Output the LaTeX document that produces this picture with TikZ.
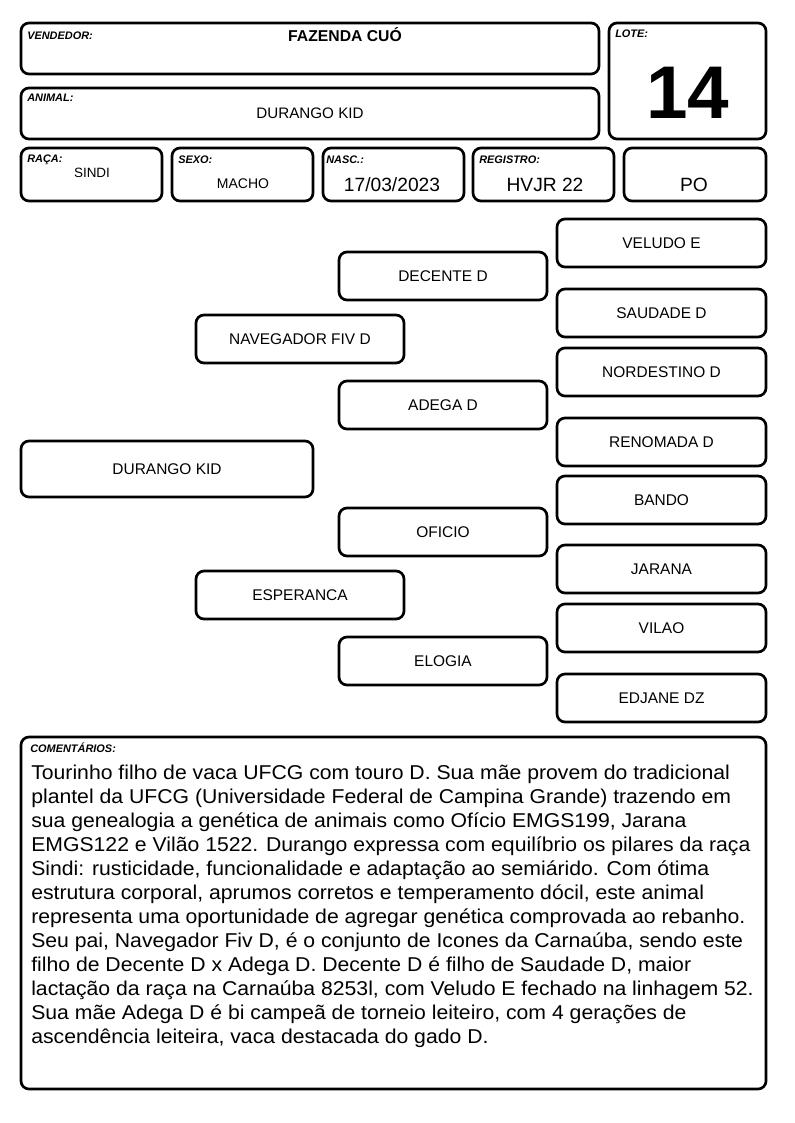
\documentclass[tikz,border=0pt]{standalone}
\usepackage{fontspec}
\setmainfont{Liberation Sans}
\newfontfamily\comfont[FakeStretch=1.06]{Liberation Sans}
\newcommand\pedbox[6]{\node[box, minimum width={(#4-#2)*0.75pt}, minimum height={(#5-#3)*0.75pt}] (#1) at ({(#2+#4)/2},{(#3+#5)/2}) {#6};}
\begin{document}
\begin{tikzpicture}[x=0.75pt,y=-0.75pt,
  box/.style={draw, line width=2pt, rounded corners=6pt, inner sep=0pt, font=\fontsize{11.6}{14}\selectfont},
  tag/.style={anchor=base west, inner sep=0pt, font=\fontsize{8.2}{10}\selectfont\bfseries\itshape},
  val/.style={anchor=base, inner sep=0pt},
  cline/.style={anchor=base west, inner sep=0pt, font=\comfont\fontsize{15}{18}\selectfont}]
\useasboundingbox (0,0) rectangle (794,1123);
% header
\pedbox{vend}{21}{23}{599}{74}{}
\pedbox{anim}{21}{88}{599}{139}{}
\pedbox{lote}{609}{23}{766}{139}{}
\pedbox{raca}{21}{148}{162}{201}{}
\pedbox{sexo}{172}{148}{313}{201}{}
\pedbox{nasc}{323}{148}{464}{201}{}
\pedbox{reg}{473}{148}{614}{201}{}
\pedbox{cat}{624}{148}{766}{201}{}
\node[tag] (tvend) at (27,39.5) {VENDEDOR:};
\node[tag] (tanim) at (27,102) {ANIMAL:};
\node[tag] (tlote) at (615,38) {LOTE:};
\node[tag] (traca) at (27,163) {RAÇA:};
\node[tag] (tsexo) at (178,164) {SEXO:};
\node[tag] (tnasc) at (326,164) {NASC.:};
\node[tag] (treg) at (479,164) {REGISTRO:};
\node[val, font=\fontsize{11.8}{14}\selectfont\bfseries] (vvend) at (345,42) {FAZENDA CUÓ};
\node[val, font=\fontsize{11.4}{14}\selectfont] (vanim) at (310,119) {DURANGO KID};
\node[val, font=\fontsize{56}{56}\selectfont\bfseries] (vlote) at (688,118.5) {14};
\node[val, font=\fontsize{10.1}{12}\selectfont] (vraca) at (92,178) {SINDI};
\node[val, font=\fontsize{10.5}{12}\selectfont] (vsexo) at (243,189) {MACHO};
\node[val, font=\fontsize{14.4}{16}\selectfont] (vnasc) at (392,192) {17/03/2023};
\node[val, font=\fontsize{14.4}{16}\selectfont] (vreg) at (545,192) {HVJR 22};
\node[val, font=\fontsize{14.4}{16}\selectfont] (vcat) at (694,192) {PO};
% pedigree
\pedbox{p0}{21}{441}{313}{497}{DURANGO KID}
\pedbox{p1}{196}{315}{404}{363}{NAVEGADOR FIV D}
\pedbox{p2}{196}{571}{404}{619}{ESPERANCA}
\pedbox{p3}{339}{252}{547}{300}{DECENTE D}
\pedbox{p4}{339}{381}{547}{429}{ADEGA D}
\pedbox{p5}{339}{508}{547}{556}{OFICIO}
\pedbox{p6}{339}{637}{547}{685}{ELOGIA}
\pedbox{p7}{557}{219}{766}{267}{VELUDO E}
\pedbox{p8}{557}{289}{766}{337}{SAUDADE D}
\pedbox{p9}{557}{348}{766}{396}{NORDESTINO D}
\pedbox{p10}{557}{418}{766}{466}{RENOMADA D}
\pedbox{p11}{557}{476}{766}{524}{BANDO}
\pedbox{p12}{557}{545}{766}{593}{JARANA}
\pedbox{p13}{557}{604}{766}{652}{VILAO}
\pedbox{p14}{557}{674}{766}{722}{EDJANE DZ}
% comments
\pedbox{com}{21}{737}{766}{1089}{}
\node[tag] (tcom) at (30,752.5) {COMENTÁRIOS:};
\node[cline] (l1) at (31,779) {Tourinho filho de vaca UFCG com touro D. Sua mãe provem do tradicional};
\node[cline] (l2) at (31,803.05) {plantel da UFCG (Universidade Federal de Campina Grande) trazendo em};
\node[cline] (l3) at (31,827.1) {sua genealogia a genética de animais como Ofício EMGS199, Jarana};
\node[cline] (l4) at (31,851.15) {EMGS122 e Vilão 1522. Durango expressa com equilíbrio os pilares da raça};
\node[cline] (l5) at (31,875.2) {Sindi: rusticidade, funcionalidade e adaptação ao semiárido. Com ótima};
\node[cline] (l6) at (31,899.25) {estrutura corporal, aprumos corretos e temperamento dócil, este animal};
\node[cline] (l7) at (31,923.3) {representa uma oportunidade de agregar genética comprovada ao rebanho.};
\node[cline] (l8) at (31,947.35) {Seu pai, Navegador Fiv D, é o conjunto de Icones da Carnaúba, sendo este};
\node[cline] (l9) at (31,971.4) {filho de Decente D x Adega D. Decente D é filho de Saudade D, maior};
\node[cline] (l10) at (31,995.45) {lactação da raça na Carnaúba 8253l, com Veludo E fechado na linhagem 52.};
\node[cline] (l11) at (31,1019.5) {Sua mãe Adega D é bi campeã de torneio leiteiro, com 4 gerações de};
\node[cline] (l12) at (31,1043.55) {ascendência leiteira, vaca destacada do gado D.};
\end{tikzpicture}
\end{document}
